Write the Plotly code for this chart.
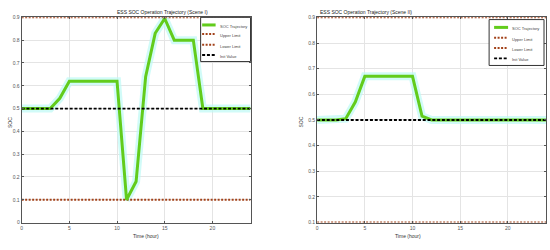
import plotly.graph_objects as go

hours = list(range(0, 25))
soc_scene1 = [0.5, 0.5, 0.5, 0.5, 0.545, 0.62, 0.62, 0.62, 0.62, 0.62, 0.62,
              0.1, 0.18, 0.64, 0.83, 0.895, 0.8, 0.8, 0.8, 0.5, 0.5, 0.5, 0.5, 0.5, 0.5]
soc_scene2 = [0.5, 0.5, 0.5, 0.505, 0.57, 0.67, 0.67, 0.67, 0.67, 0.67, 0.67,
              0.515, 0.5, 0.5, 0.5, 0.5, 0.5, 0.5, 0.5, 0.5, 0.5, 0.5, 0.5, 0.5, 0.5]
upper_limit = 0.9
lower_limit = 0.1
init_value = 0.5
titles = ["ESS SOC Operation Trajectory (Scene I)", "ESS SOC Operation Trajectory (Scene II)"]
legend_names = ["SOC Trajectory", "Upper Limit", "Lower Limit", "Init Value"]
x_ticks = [0, 5, 10, 15, 20]

W, H = 550, 250
GREEN = "#62cc1c"
LIMIT = "#a2421a"
fig = go.Figure()

panels = [
    dict(xd=(20.7, 250), yd=(14.7, 225), yr=(0, 0.9), soc=soc_scene1, title_x=114,
         yticks=[0, 0.1, 0.2, 0.3, 0.4, 0.5, 0.6, 0.7, 0.8, 0.9],
         leg=dict(x0=200, x1=250, y0=14.7, y1=60, rows=[22.5, 31.7, 42.7, 53.3], lx0=201.5, lx1=215, tx=217),
         ylab_x=4, xlab_x=130),
    dict(xd=(316.7, 546), yd=(14.7, 225), yr=(0.1, 0.9), soc=soc_scene2, title_x=414,
         yticks=[0.1, 0.2, 0.3, 0.4, 0.5, 0.6, 0.7, 0.8, 0.9],
         leg=dict(x0=489, x1=544, y0=17, y1=64, rows=[25, 35.7, 46, 56.7], lx0=494, lx1=508, tx=510),
         ylab_x=301, xlab_x=423),
]

def px_x(p):
    return p / W

def px_y(p):
    return 1 - p / H

for i, p in enumerate(panels):
    n = "" if i == 0 else str(i + 1)
    xa, ya = "x" + n, "y" + n
    soc = p["soc"]
    fig.add_trace(go.Scatter(x=hours, y=soc, mode="lines", xaxis=xa, yaxis=ya,
                             line=dict(color="rgba(190,250,245,0.7)", width=8), showlegend=False, hoverinfo="skip"))
    fig.add_trace(go.Scatter(x=hours, y=[upper_limit] * len(hours), mode="lines", xaxis=xa, yaxis=ya,
                             line=dict(color=LIMIT, width=2, dash="2px,1.5px"), showlegend=False))
    fig.add_trace(go.Scatter(x=hours, y=[lower_limit] * len(hours), mode="lines", xaxis=xa, yaxis=ya,
                             line=dict(color=LIMIT, width=2, dash="2px,1.5px"), showlegend=False))
    fig.add_trace(go.Scatter(x=hours, y=soc, mode="lines", xaxis=xa, yaxis=ya,
                             line=dict(color=GREEN, width=3), showlegend=False))
    fig.add_trace(go.Scatter(x=hours, y=[init_value] * len(hours), mode="lines", xaxis=xa, yaxis=ya,
                             line=dict(color="black", width=1.8, dash="3px,1.8px"), showlegend=False))

    axis_common = dict(showline=True, linecolor="#555", linewidth=1, mirror="ticks", ticks="inside",
                       ticklen=2, tickcolor="#555", showgrid=True, gridcolor="#e4e4e4", gridwidth=1,
                       zeroline=False, tickfont=dict(size=5, color="#555", family="Liberation Sans"))
    fig.update_layout(**{
        "xaxis" + n: dict(domain=[px_x(p["xd"][0]), px_x(p["xd"][1])], range=[0, 24],
                          tickvals=x_ticks, anchor=ya, **axis_common),
        "yaxis" + n: dict(domain=[px_y(p["yd"][1]), px_y(p["yd"][0])], range=list(p["yr"]),
                          tickvals=p["yticks"], tickformat="~g", anchor=xa, **axis_common),
    })

    # title and axis labels
    fig.add_annotation(text=titles[i], xref="paper", yref="paper", x=px_x(p["title_x"]), y=px_y(4.5),
                       showarrow=False, font=dict(size=5, color="#222", family="Liberation Sans"))
    fig.add_annotation(text="Time (hour)", xref="paper", yref="paper", x=px_x(p["xlab_x"]), y=px_y(244),
                       showarrow=False, font=dict(size=5, color="#333", family="Liberation Sans"))
    fig.add_annotation(text="SOC", xref="paper", yref="paper", x=px_x(p["ylab_x"]), y=px_y(122),
                       showarrow=False, textangle=-90, font=dict(size=5, color="#333", family="Liberation Sans"))

    # legend box
    L = p["leg"]
    fig.add_shape(type="rect", xref="paper", yref="paper", x0=px_x(L["x0"]), x1=px_x(L["x1"]),
                  y0=px_y(L["y1"]), y1=px_y(L["y0"]), line=dict(color="#333", width=1), fillcolor="white")
    styles = [dict(color=GREEN, width=3), dict(color=LIMIT, width=2, dash="2px,1.5px"),
              dict(color=LIMIT, width=2, dash="2px,1.5px"), dict(color="black", width=1.8, dash="3px,1.8px")]
    for name, ry, st in zip(legend_names, L["rows"], styles):
        fig.add_shape(type="line", xref="paper", yref="paper", x0=px_x(L["lx0"]), x1=px_x(L["lx1"]),
                      y0=px_y(ry), y1=px_y(ry), line=st)
        fig.add_annotation(text=name, xref="paper", yref="paper", x=px_x(L["tx"]), y=px_y(ry - 3),
                           xanchor="left", showarrow=False,
                           font=dict(size=4, color="#444", family="Liberation Sans"))

fig.update_layout(width=W, height=H, margin=dict(l=0, r=0, t=0, b=0),
                  paper_bgcolor="white", plot_bgcolor="white", showlegend=False)

fig.write_html("out.html", config={"displayModeBar": False},
               post_script="document.body.style.margin='0';document.body.style.overflow='hidden';")
